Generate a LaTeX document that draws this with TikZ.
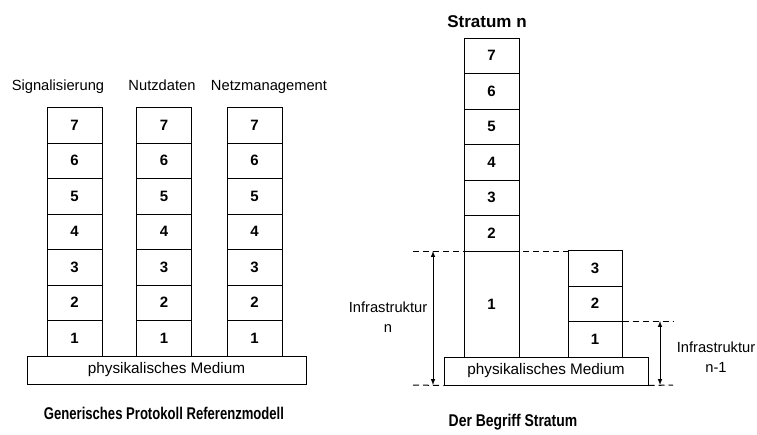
\documentclass[tikz,border=0pt]{standalone}
\usepackage{fontspec}
\setmainfont{Liberation Sans}
\usepackage{tikz}

\begin{document}
\begin{tikzpicture}[x=1pt,y=-1pt,
		layer_style/.style={rectangle,draw=black,line width=1pt,minimum width=55pt,minimum height=35.5pt,inner sep=0pt,font=\fontsize{15}{15}\selectfont\bfseries},
		tall_style/.style={layer_style,minimum height=106pt},
		medium_style/.style={rectangle,draw=black,line width=1pt,minimum height=28pt,inner sep=0pt,font=\fontsize{15.3}{17}\selectfont},
		label_style/.style={align=center,inner sep=0pt,font=\fontsize{14.7}{19.5}\selectfont},
		title_style/.style={inner sep=0pt,font=\fontsize{17}{20}\selectfont\bfseries},
		dash_style/.style={draw=black,dash pattern=on 6pt off 4pt,line width=1pt},
		arrow_style/.style={draw=black,<->,>=latex,line width=1pt}]
		
		\useasboundingbox (0,0) rectangle (757,434);
		
		% left: three stacks on one medium
		\node[label_style,anchor=base] (la) at (58,90)  {Signalisierung};
		\node[label_style,anchor=base] (lb) at (162,90)  {Nutzdaten};
		\node[label_style,anchor=base] (lc) at (269,90)  {Netzmanagement};
		
		\node[layer_style] (a1) at (74.5,338.25)  {1};
		\node[layer_style] (a2) at (74.5,302.75)  {2};
		\node[layer_style] (a3) at (74.5,267.25)  {3};
		\node[layer_style] (a4) at (74.5,231.75)  {4};
		\node[layer_style] (a5) at (74.5,196.25)  {5};
		\node[layer_style] (a6) at (74.5,160.75)  {6};
		\node[layer_style] (a7) at (74.5,125.25)  {7};
		
		\node[layer_style] (b1) at (164,338.25)  {1};
		\node[layer_style] (b2) at (164,302.75)  {2};
		\node[layer_style] (b3) at (164,267.25)  {3};
		\node[layer_style] (b4) at (164,231.75)  {4};
		\node[layer_style] (b5) at (164,196.25)  {5};
		\node[layer_style] (b6) at (164,160.75)  {6};
		\node[layer_style] (b7) at (164,125.25)  {7};
		
		\node[layer_style] (c1) at (254.5,338.25)  {1};
		\node[layer_style] (c2) at (254.5,302.75)  {2};
		\node[layer_style] (c3) at (254.5,267.25)  {3};
		\node[layer_style] (c4) at (254.5,231.75)  {4};
		\node[layer_style] (c5) at (254.5,196.25)  {5};
		\node[layer_style] (c6) at (254.5,160.75)  {6};
		\node[layer_style] (c7) at (254.5,125.25)  {7};
		
		\node[medium_style,minimum width=279pt] (med_l) at (166.5,370)  {physikalisches Medium};
		
		\node[title_style,anchor=base] (title_l) at (164,419)  {\scalebox{0.77}[1]{Generisches Protokoll Referenzmodell}};
		
		% right: stratum n above stratum n-1
		\node[title_style,anchor=base] (title_s) at (487,27)  {Stratum n};
		
		\node[tall_style] (s1) at (491.5,304)  {1};
		\node[layer_style] (s2) at (491.5,233.25)  {2};
		\node[layer_style] (s3) at (491.5,197.75)  {3};
		\node[layer_style] (s4) at (491.5,162.25)  {4};
		\node[layer_style] (s5) at (491.5,126.75)  {5};
		\node[layer_style] (s6) at (491.5,91.25)  {6};
		\node[layer_style] (s7) at (491.5,55.75)  {7};
		
		\node[layer_style,minimum width=54pt] (t1) at (595,339.25)  {1};
		\node[layer_style,minimum width=54pt] (t2) at (595,303.75)  {2};
		\node[layer_style,minimum width=54pt] (t3) at (595,268.25)  {3};
		
		\node[medium_style,minimum width=204pt] (med_r) at (546,371)  {physikalisches Medium};
		
		\coordinate (d1) at (413,251);
		\coordinate (d2) at (413,385);
		\coordinate (d3) at (673,321);
		\coordinate (d4) at (673,385);
		\coordinate (p1) at (433,251);
		\coordinate (p2) at (433,385);
		\coordinate (p3) at (660,321);
		\coordinate (p4) at (660,385);
		
		\draw[dash_style]  (d1) -- (d1 -| t3.west);
		\draw[dash_style]  (d2) -- (med_r.south west);
		\draw[dash_style]  (t1.north east) -- (d3);
		\draw[dash_style]  (med_r.south east) -- (d4);
		\draw[arrow_style]  (p1) -- (p2);
		\draw[arrow_style]  (p3) -- (p4);
		
		\node[label_style] (inf_n) at (388,317)  {Infrastruktur\\n};
		\node[label_style] (inf_m) at (716,357)  {Infrastruktur\\n-1};
		
		\node[title_style,anchor=base] (title_r) at (513,426)  {\scalebox{0.82}[1]{Der Begriff Stratum}};

		\end{tikzpicture}
\end{document}
